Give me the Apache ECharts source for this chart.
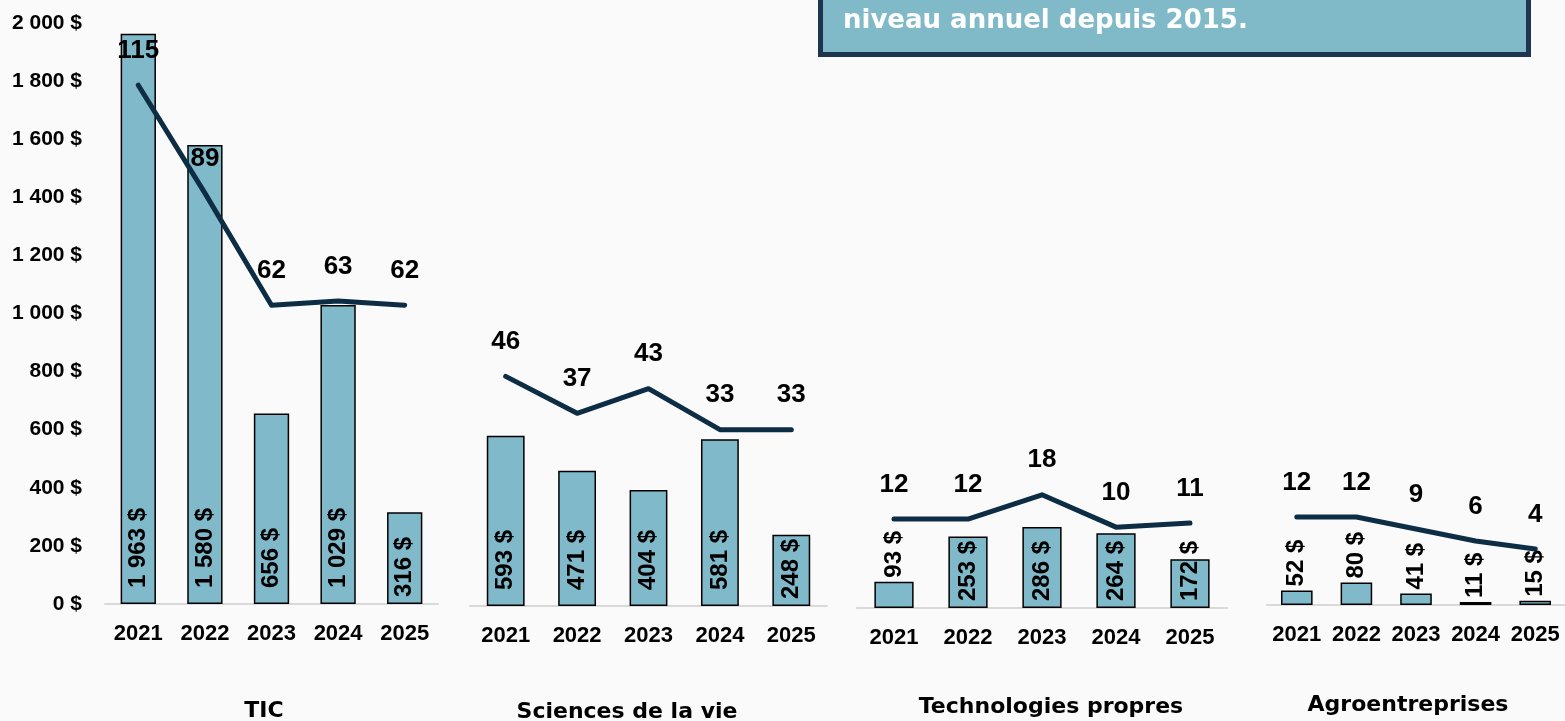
<!DOCTYPE html>
<html>
<head>
<meta charset="utf-8">
<title>Investissements par secteur</title>
<script src="https://cdn.jsdelivr.net/npm/echarts@6/dist/echarts.min.js"></script>
<style>
  html, body { margin: 0; padding: 0; background: #fafafa; }
  #chart { width: 1565px; height: 721px; }
</style>
</head>
<body>
<div id="chart"></div>
<script>
// data
const years = ['2021', '2022', '2023', '2024', '2025'];
const sectors = ['TIC', 'Sciences de la vie', 'Technologies propres', 'Agroentreprises'];
const ticAmounts = [1963, 1580, 656, 1029, 316];
const ticDeals = [115, 89, 62, 63, 62];
const lifeAmounts = [593, 471, 404, 581, 248];
const lifeDeals = [46, 37, 43, 33, 33];
const cleanAmounts = [93, 253, 286, 264, 172];
const cleanDeals = [12, 12, 18, 10, 11];
const agroAmounts = [52, 80, 41, 11, 15];
const agroDeals = [12, 12, 9, 6, 4];
const amountAxis = { min: 0, max: 2000, interval: 200 };
const dealAxis = { min: -10, max: 130 };
const note = 'niveau annuel depuis 2015.';

const amounts = [ticAmounts, lifeAmounts, cleanAmounts, agroAmounts];
const deals = [ticDeals, lifeDeals, cleanDeals, agroDeals];

// panel layout
const panels = [
  { left: 105, width: 333, top: 23, bottom: 604, titleX: 264, titleY: 711 },
  { left: 470, width: 357, top: 32, bottom: 606, titleX: 627, titleY: 712 },
  { left: 857, width: 370, top: 42, bottom: 608, titleX: 1051, titleY: 707 },
  { left: 1267, width: 300, top: 45, bottom: 605, titleX: 1408, titleY: 705 }
];

const NUM_FONT = '"Liberation Sans", Arial, sans-serif';
const TXT_FONT = '"DejaVu Sans", sans-serif';
const BAR_COLOR = '#80b9c9';
const LINE_COLOR = '#0c2d44';

function money(v) {
  return String(v).replace(/\B(?=(\d{3})+(?!\d))/g, ' ') + ' $';
}

function barLabel(v) {
  if (v < 100) return { position: 'top', distance: 4 };
  if (v < 350) return { position: 'insideBottom', distance: 7 };
  return { position: 'insideBottom', distance: 16 };
}

var chart = echarts.init(document.getElementById('chart'));

var grid = [], xAxis = [], yAxis = [], series = [], title = [];

panels.forEach(function (p, i) {
  grid.push({ left: p.left, width: p.width, top: p.top, height: p.bottom - p.top });
  xAxis.push({
    type: 'category',
    gridIndex: i,
    data: years,
    axisLine: { lineStyle: { color: '#d9d9d9', width: 2 } },
    axisTick: { show: false },
    axisLabel: {
      interval: 0, hideOverlap: false,
      color: '#000', fontSize: 22, fontWeight: 'bold', fontFamily: NUM_FONT, margin: 19
    }
  });
  yAxis.push({
    type: 'value',
    gridIndex: i,
    min: amountAxis.min,
    max: amountAxis.max,
    interval: amountAxis.interval,
    splitLine: { show: false },
    axisLine: { show: false },
    axisTick: { show: false },
    axisLabel: {
      show: i === 0,
      color: '#000', fontSize: 21, fontWeight: 'bold', fontFamily: NUM_FONT, margin: 23,
      formatter: money
    }
  });
  yAxis.push({
    type: 'value',
    gridIndex: i,
    min: dealAxis.min,
    max: dealAxis.max,
    show: false,
    splitLine: { show: false }
  });
  series.push({
    type: 'bar',
    xAxisIndex: i,
    yAxisIndex: 2 * i,
    barWidth: '53%',
    itemStyle: { color: BAR_COLOR, borderColor: '#000', borderWidth: 1.5 },
    label: {
      show: true, rotate: 90, align: 'left', verticalAlign: 'middle',
      color: '#000', fontSize: 24, fontWeight: 'bold', fontFamily: NUM_FONT,
      formatter: function (d) { return money(d.value); }
    },
    data: amounts[i].map(function (v) { return { value: v, label: barLabel(v) }; })
  });
  series.push({
    type: 'line',
    xAxisIndex: i,
    yAxisIndex: 2 * i + 1,
    data: deals[i],
    symbol: 'circle',
    symbolSize: 1,
    itemStyle: { color: LINE_COLOR },
    lineStyle: { color: LINE_COLOR, width: 5, cap: 'round', join: 'round' },
    label: {
      show: true, position: 'top', distance: 21,
      color: '#000', fontSize: 26, fontWeight: 'bold', fontFamily: NUM_FONT
    },
    z: 5
  });
  title.push({
    text: sectors[i],
    left: p.titleX,
    top: p.titleY,
    textAlign: 'center',
    textVerticalAlign: 'middle',
    padding: 0,
    textStyle: { color: '#000', fontSize: 22, fontWeight: 'bold', fontFamily: TXT_FONT }
  });
});

var option = {
  backgroundColor: '#fafafa',
  animation: false,
  title: title,
  grid: grid,
  xAxis: xAxis,
  yAxis: yAxis,
  series: series,
  graphic: [
    {
      type: 'rect',
      shape: { x: 820.5, y: -60, width: 708, height: 114.5 },
      style: { fill: '#80b9c8', stroke: '#1e3550', lineWidth: 5 },
      z: 10
    },
    {
      type: 'text',
      x: 843,
      y: 21,
      style: {
        text: note,
        fill: '#fff',
        font: 'bold 26px "DejaVu Sans", sans-serif',
        verticalAlign: 'middle'
      },
      z: 11
    }
  ]
};

chart.setOption(option);
</script>
</body>
</html>
